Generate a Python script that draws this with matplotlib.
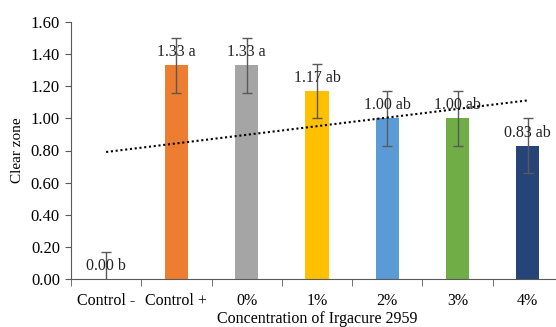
import numpy as np
import matplotlib.pyplot as plt

# data
categories = ["Control -", "Control +", "0%", "1%", "2%", "3%", "4%"]
clear_zone = [0.00, 1.33, 1.33, 1.17, 1.00, 1.00, 0.83]
std_err = [0.17, 0.17, 0.17, 0.17, 0.17, 0.17, 0.17]
letters = ["b", "a", "a", "ab", "ab", "ab", "ab"]
bar_colors = ["#4472C4", "#ED7D31", "#A5A5A5", "#FFC000", "#5B9BD5", "#70AD47", "#264478"]

plt.rcParams['font.family'] = ['Liberation Serif', 'DejaVu Serif']
plt.rcParams['font.size'] = 11

fig = plt.figure(figsize=(5.56, 3.27), dpi=100)
ax = fig.add_axes([71 / 556, 1 - 279 / 327, 492 / 556, 257 / 327])

x = np.arange(len(categories))
ax.bar(x, clear_zone, width=0.33, color=bar_colors, zorder=2)
ax.errorbar(x, clear_zone, yerr=std_err, fmt='none', ecolor="#595959",
            elinewidth=1, capsize=3.5, capthick=1, zorder=3)

# linear trendline (Excel style)
coef = np.polyfit(x + 1, clear_zone, 1)
ax.plot(x, np.polyval(coef, x + 1), linestyle=(0, (1, 1.3)), color="black",
        linewidth=1.5, zorder=4)

for xi, v, lt in zip(x, clear_zone, letters):
    ax.annotate("%.2f %s" % (v, lt), (xi, v), xytext=(0, 13), textcoords="offset pixels",
                ha="center", va="center", fontsize=11.5, color="#222222", zorder=5)

ax.set_xlim(-0.5, len(categories) - 0.5)
ax.set_ylim(0, 1.6)
ax.set_yticks(np.arange(0, 1.61, 0.2))
ax.set_yticklabels(["%.2f" % t for t in np.arange(0, 1.61, 0.2)])
ax.set_xticks(x)
ax.set_xticklabels(categories)
ax.set_xticks(np.arange(-0.5, len(categories)), minor=True)
ax.tick_params(axis='x', which='major', length=0, pad=10, labelsize=11.5)
ax.tick_params(axis='x', which='minor', length=5, color="#595959")
ax.tick_params(axis='y', length=4, color="#595959", labelsize=12, pad=4)

for s in ["top", "right"]:
    ax.spines[s].set_visible(False)
for s in ["left", "bottom"]:
    ax.spines[s].set_color("#595959")

ax.set_ylabel("Clear zone", fontsize=11, labelpad=5)
ax.set_xlabel("Concentration of Irgacure 2959", fontsize=11.5, labelpad=1.5)

fig.savefig("out.png", dpi=100)
